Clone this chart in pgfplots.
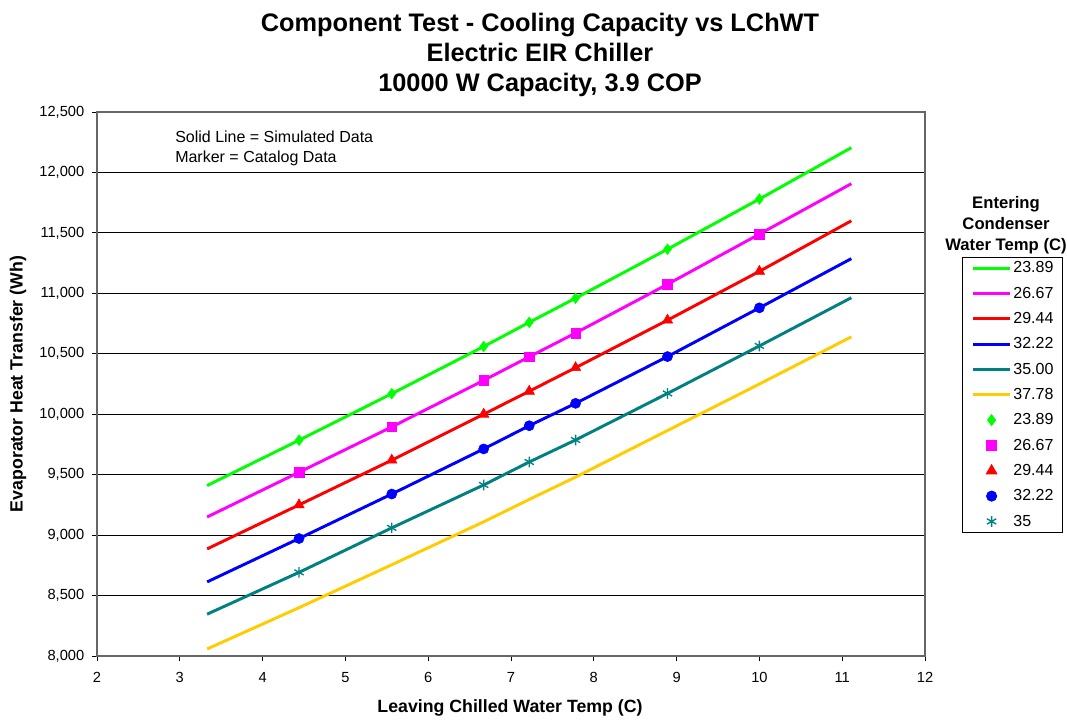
\documentclass[border=0pt]{standalone}
\usepackage{pgfplots}
\pgfplotsset{compat=1.18}
\usepackage{fontspec}
\setmainfont{Liberation Sans}
\definecolor{cgreen}{RGB}{0,255,0}
\definecolor{cmag}{RGB}{255,0,255}
\definecolor{cred}{RGB}{255,0,0}
\definecolor{cblue}{RGB}{0,0,255}
\definecolor{cteal}{RGB}{0,128,128}
\definecolor{cyel}{RGB}{255,204,0}
\begin{document}
\begin{tikzpicture}
\pgfplotsset{
  lineleg/.style={legend image code/.code={\draw[##1] (0pt,0pt) -- (27.5pt,0pt);}},
  markleg/.style={legend image code/.code={\draw[##1] plot coordinates {(13.75pt,0pt)};}},
}
\begin{axis}[
  at={(72.75pt,-492pt)}, anchor=south west,
  scale only axis, width=621pt, height=408pt,
  xmin=2, xmax=12, ymin=8000, ymax=12500,
  xtick={2,3,...,12}, ytick={8000,8500,...,12500},
  scaled y ticks=false,
  axis line style={draw=gray!80!black, line width=0.9pt},
  ymajorgrids, grid style={black, line width=0.7pt},
  tick align=outside, major tick length=4pt,
  tick style={black, line width=0.7pt},
  xtick pos=bottom, ytick pos=left,
  tick label style={font=\fontsize{11}{13}\selectfont},
  xticklabel style={yshift=-5pt},
  yticklabel style={xshift=-2pt},
  /pgf/number format/assume math mode=true,
  yticklabel={\pgfmathprintnumber[fixed,precision=0,1000 sep={,}]{\tick}},
  clip=false,
  legend style={at={(1.0447,0.7335)}, anchor=north west, draw=black, line width=0.7pt,
    font=\fontsize{12}{14}\selectfont, row sep=8pt, column sep=1.5pt,
    inner xsep=7pt, inner ysep=2.5pt,
    nodes={inner xsep=0pt, inner ysep=0pt, text height=9pt, text depth=2pt}},
  legend cell align=left,
]
% simulated lines
\addplot[cgreen, line width=2.2pt, lineleg] coordinates {(3.33,9410) (4.44,9785) (5.56,10170) (6.67,10560) (7.22,10760) (7.78,10960) (8.89,11365) (10,11780) (11.11,12205)};
\addlegendentry{23.89}
\addplot[cmag, line width=2.2pt, lineleg] coordinates {(3.33,9150) (4.44,9520) (5.56,9895) (6.67,10280) (7.22,10475) (7.78,10672) (8.89,11075) (10,11490) (11.11,11907)};
\addlegendentry{26.67}
\addplot[cred, line width=2.2pt, lineleg] coordinates {(3.33,8886) (4.44,9250) (5.56,9620) (6.67,10000) (7.22,10190) (7.78,10385) (8.89,10778) (10,11182) (11.11,11600)};
\addlegendentry{29.44}
\addplot[cblue, line width=2.2pt, lineleg] coordinates {(3.33,8613) (4.44,8972) (5.56,9340) (6.67,9713) (7.22,9905) (7.78,10090) (8.89,10477) (10,10880) (11.11,11287)};
\addlegendentry{32.22}
\addplot[cteal, line width=2.2pt, lineleg] coordinates {(3.33,8346) (4.44,8692) (5.56,9060) (6.67,9415) (7.22,9605) (7.78,9787) (8.89,10172) (10,10565) (11.11,10964)};
\addlegendentry{35.00}
\addplot[cyel, line width=2.2pt, lineleg] coordinates {(3.33,8058) (4.44,8400) (5.56,8755) (6.67,9110) (7.22,9295) (7.78,9480) (8.89,9865) (10,10250) (11.11,10640)};
\addlegendentry{37.78}
% catalog markers
\addplot[only marks, mark=diamond*, mark size=4pt, color=cgreen, markleg] coordinates {(4.44,9785) (5.56,10170) (6.67,10560) (7.22,10760) (7.78,10960) (8.89,11365) (10,11780)};
\addlegendentry{23.89}
\addplot[only marks, mark=square*, mark size=3.6pt, color=cmag, markleg] coordinates {(4.44,9520) (5.56,9895) (6.67,10280) (7.22,10475) (7.78,10672) (8.89,11075) (10,11490)};
\addlegendentry{26.67}
\addplot[only marks, mark=triangle*, mark size=4.5pt, color=cred, markleg] coordinates {(4.44,9250) (5.56,9620) (6.67,10000) (7.22,10190) (7.78,10385) (8.89,10778) (10,11182)};
\addlegendentry{29.44}
\addplot[only marks, mark=*, mark size=3.8pt, color=cblue, markleg] coordinates {(4.44,8972) (5.56,9340) (6.67,9713) (7.22,9905) (7.78,10090) (8.89,10477) (10,10880)};
\addlegendentry{32.22}
\addplot[only marks, mark=asterisk, mark size=4pt, mark options={line width=1pt}, color=cteal, markleg] coordinates {(4.44,8692) (5.56,9060) (6.67,9415) (7.22,9605) (7.78,9787) (8.89,10172) (10,10565)};
\addlegendentry{35}
\end{axis}
% titles, axis labels and notes
\node[font=\fontsize{19}{22.5}\selectfont\bfseries, align=center, anchor=center] at (405pt,-41.25pt)
  {Component Test - Cooling Capacity vs LChWT\\Electric EIR Chiller\\10000 W Capacity, 3.9 COP};
\node[font=\fontsize{13.3}{16}\selectfont\bfseries, anchor=center] at (382.5pt,-531pt)
  {Leaving Chilled Water Temp (C)};
\node[font=\fontsize{13.3}{16}\selectfont\bfseries, anchor=center, rotate=90] at (13.5pt,-288pt)
  {Evaporator Heat Transfer (Wh)};
\node[font=\fontsize{12}{15}\selectfont, anchor=base west, inner sep=0pt] at (131.25pt,-107pt)
  {Solid Line = Simulated Data};
\node[font=\fontsize{12}{15}\selectfont, anchor=base west, inner sep=0pt] at (131.25pt,-122pt)
  {Marker = Catalog Data};
\node[font=\fontsize{12.5}{15.75}\selectfont\bfseries, align=center, anchor=center] at (754.5pt,-168.75pt)
  {Entering\\Condenser\\Water Temp (C)};
\pgfresetboundingbox
\useasboundingbox (0pt,0pt) rectangle (800.25pt,-539.25pt);
\end{tikzpicture}
\end{document}
